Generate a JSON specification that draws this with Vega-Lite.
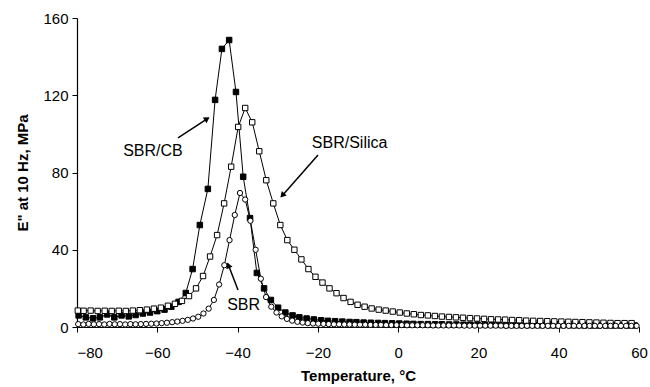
{
  "$schema": "https://vega.github.io/schema/vega-lite/v6.json",
  "width": 562,
  "height": 309,
  "autosize": {"type": "none"},
  "padding": {"left": 77, "top": 18, "right": 11, "bottom": 60},
  "background": "white",
  "config": {
    "view": {"stroke": null},
    "font": "Liberation Sans",
    "axis": {
      "grid": false,
      "domainColor": "black",
      "domainWidth": 1.2,
      "tickColor": "black",
      "tickWidth": 1,
      "tickSize": 5,
      "labelFont": "Liberation Sans",
      "labelFontSize": 15,
      "labelColor": "black",
      "titleFont": "Liberation Sans",
      "titleFontSize": 15,
      "titleFontWeight": "bold",
      "titleColor": "black"
    }
  },
  "datasets": {
    "main": [
      {"series": "SBR/CB", "T": -79.6, "v": 6},
      {"series": "SBR/CB", "T": -77.8, "v": 5},
      {"series": "SBR/CB", "T": -76.0, "v": 4.5},
      {"series": "SBR/CB", "T": -74.3, "v": 5},
      {"series": "SBR/CB", "T": -72.5, "v": 6.5},
      {"series": "SBR/CB", "T": -70.7, "v": 5},
      {"series": "SBR/CB", "T": -68.9, "v": 6},
      {"series": "SBR/CB", "T": -67.1, "v": 5.5},
      {"series": "SBR/CB", "T": -65.4, "v": 6.2},
      {"series": "SBR/CB", "T": -63.6, "v": 7},
      {"series": "SBR/CB", "T": -61.8, "v": 7.5},
      {"series": "SBR/CB", "T": -60.0, "v": 8.2},
      {"series": "SBR/CB", "T": -58.2, "v": 9},
      {"series": "SBR/CB", "T": -56.5, "v": 10.5},
      {"series": "SBR/CB", "T": -54.7, "v": 13},
      {"series": "SBR/CB", "T": -52.9, "v": 17.6},
      {"series": "SBR/CB", "T": -51.2, "v": 30},
      {"series": "SBR/CB", "T": -49.4, "v": 52.8},
      {"series": "SBR/CB", "T": -47.4, "v": 71.5},
      {"series": "SBR/CB", "T": -45.6, "v": 117.6},
      {"series": "SBR/CB", "T": -43.9, "v": 144},
      {"series": "SBR/CB", "T": -42.1, "v": 148.6},
      {"series": "SBR/CB", "T": -40.4, "v": 121.7},
      {"series": "SBR/CB", "T": -38.6, "v": 77.8},
      {"series": "SBR/CB", "T": -36.9, "v": 56.4},
      {"series": "SBR/CB", "T": -35.2, "v": 28},
      {"series": "SBR/CB", "T": -33.4, "v": 20},
      {"series": "SBR/CB", "T": -31.7, "v": 14},
      {"series": "SBR/CB", "T": -29.9, "v": 10},
      {"series": "SBR/CB", "T": -28.1, "v": 7.5},
      {"series": "SBR/CB", "T": -26.3, "v": 6},
      {"series": "SBR/CB", "T": -24.6, "v": 5},
      {"series": "SBR/CB", "T": -22.8, "v": 4.4},
      {"series": "SBR/CB", "T": -21.0, "v": 3.9},
      {"series": "SBR/CB", "T": -19.2, "v": 3.5},
      {"series": "SBR/CB", "T": -17.5, "v": 3.2},
      {"series": "SBR/CB", "T": -15.7, "v": 3},
      {"series": "SBR/CB", "T": -13.9, "v": 2.8},
      {"series": "SBR/CB", "T": -12.1, "v": 2.6},
      {"series": "SBR/CB", "T": -10.4, "v": 2.5},
      {"series": "SBR/CB", "T": -8.6, "v": 2.3},
      {"series": "SBR/CB", "T": -6.8, "v": 2.2},
      {"series": "SBR/CB", "T": -5.0, "v": 2.1},
      {"series": "SBR/CB", "T": -3.3, "v": 2},
      {"series": "SBR/CB", "T": -1.5, "v": 1.9},
      {"series": "SBR/CB", "T": 0.3, "v": 1.8},
      {"series": "SBR/CB", "T": 2.1, "v": 1.7},
      {"series": "SBR/CB", "T": 3.8, "v": 1.6},
      {"series": "SBR/CB", "T": 5.6, "v": 1.5},
      {"series": "SBR/CB", "T": 7.4, "v": 1.5},
      {"series": "SBR/CB", "T": 9.2, "v": 1.4},
      {"series": "SBR/CB", "T": 10.9, "v": 1.4},
      {"series": "SBR/CB", "T": 12.7, "v": 1.3},
      {"series": "SBR/CB", "T": 14.5, "v": 1.3},
      {"series": "SBR/CB", "T": 16.3, "v": 1.2},
      {"series": "SBR/CB", "T": 18.0, "v": 1.2},
      {"series": "SBR/CB", "T": 19.8, "v": 1.2},
      {"series": "SBR/CB", "T": 21.6, "v": 1.1},
      {"series": "SBR/CB", "T": 23.4, "v": 1.1},
      {"series": "SBR/CB", "T": 25.1, "v": 1.1},
      {"series": "SBR/CB", "T": 26.9, "v": 1.0},
      {"series": "SBR/CB", "T": 28.7, "v": 1.0},
      {"series": "SBR/CB", "T": 30.5, "v": 1.0},
      {"series": "SBR/CB", "T": 32.2, "v": 1.0},
      {"series": "SBR/CB", "T": 34.0, "v": 1.0},
      {"series": "SBR/CB", "T": 35.8, "v": 0.9},
      {"series": "SBR/CB", "T": 37.6, "v": 0.9},
      {"series": "SBR/CB", "T": 39.3, "v": 0.9},
      {"series": "SBR/CB", "T": 41.1, "v": 0.9},
      {"series": "SBR/CB", "T": 42.9, "v": 0.9},
      {"series": "SBR/CB", "T": 44.7, "v": 0.9},
      {"series": "SBR/CB", "T": 46.4, "v": 0.8},
      {"series": "SBR/CB", "T": 48.2, "v": 0.8},
      {"series": "SBR/CB", "T": 50.0, "v": 0.8},
      {"series": "SBR/CB", "T": 51.8, "v": 0.8},
      {"series": "SBR/CB", "T": 53.5, "v": 0.8},
      {"series": "SBR/CB", "T": 55.3, "v": 0.8},
      {"series": "SBR/CB", "T": 57.1, "v": 0.8},
      {"series": "SBR/CB", "T": 58.9, "v": 0.8},

      {"series": "SBR/Silica", "T": -79.8, "v": 8.5},
      {"series": "SBR/Silica", "T": -78.35, "v": 8.4},
      {"series": "SBR/Silica", "T": -76.6, "v": 8.5},
      {"series": "SBR/Silica", "T": -74.85, "v": 8.3},
      {"series": "SBR/Silica", "T": -73.1, "v": 8.4},
      {"series": "SBR/Silica", "T": -71.35, "v": 8.3},
      {"series": "SBR/Silica", "T": -69.6, "v": 8.4},
      {"series": "SBR/Silica", "T": -67.85, "v": 8.3},
      {"series": "SBR/Silica", "T": -66.1, "v": 8.5},
      {"series": "SBR/Silica", "T": -64.35, "v": 8.7},
      {"series": "SBR/Silica", "T": -62.6, "v": 9},
      {"series": "SBR/Silica", "T": -60.85, "v": 9.5},
      {"series": "SBR/Silica", "T": -59.1, "v": 10},
      {"series": "SBR/Silica", "T": -57.35, "v": 11},
      {"series": "SBR/Silica", "T": -55.6, "v": 12},
      {"series": "SBR/Silica", "T": -53.85, "v": 13.5},
      {"series": "SBR/Silica", "T": -52.1, "v": 16},
      {"series": "SBR/Silica", "T": -50.35, "v": 20},
      {"series": "SBR/Silica", "T": -48.6, "v": 26.4},
      {"series": "SBR/Silica", "T": -46.85, "v": 36.5},
      {"series": "SBR/Silica", "T": -45.1, "v": 47.6},
      {"series": "SBR/Silica", "T": -43.35, "v": 64},
      {"series": "SBR/Silica", "T": -41.6, "v": 83},
      {"series": "SBR/Silica", "T": -39.85, "v": 103.6},
      {"series": "SBR/Silica", "T": -38.1, "v": 113.4},
      {"series": "SBR/Silica", "T": -36.35, "v": 106},
      {"series": "SBR/Silica", "T": -34.6, "v": 91},
      {"series": "SBR/Silica", "T": -32.85, "v": 76},
      {"series": "SBR/Silica", "T": -31.1, "v": 64},
      {"series": "SBR/Silica", "T": -29.35, "v": 52.8},
      {"series": "SBR/Silica", "T": -27.6, "v": 45},
      {"series": "SBR/Silica", "T": -25.85, "v": 40},
      {"series": "SBR/Silica", "T": -24.1, "v": 35},
      {"series": "SBR/Silica", "T": -22.35, "v": 30},
      {"series": "SBR/Silica", "T": -20.6, "v": 26},
      {"series": "SBR/Silica", "T": -18.85, "v": 23},
      {"series": "SBR/Silica", "T": -17.1, "v": 20},
      {"series": "SBR/Silica", "T": -15.35, "v": 17.5},
      {"series": "SBR/Silica", "T": -13.6, "v": 15},
      {"series": "SBR/Silica", "T": -11.85, "v": 13},
      {"series": "SBR/Silica", "T": -10.1, "v": 11.5},
      {"series": "SBR/Silica", "T": -8.35, "v": 10.5},
      {"series": "SBR/Silica", "T": -6.6, "v": 9.6},
      {"series": "SBR/Silica", "T": -4.85, "v": 9},
      {"series": "SBR/Silica", "T": -3.1, "v": 8.5},
      {"series": "SBR/Silica", "T": -1.35, "v": 8},
      {"series": "SBR/Silica", "T": 0.4, "v": 7.5},
      {"series": "SBR/Silica", "T": 2.15, "v": 7},
      {"series": "SBR/Silica", "T": 3.9, "v": 6.6},
      {"series": "SBR/Silica", "T": 5.65, "v": 6.2},
      {"series": "SBR/Silica", "T": 7.4, "v": 6},
      {"series": "SBR/Silica", "T": 9.15, "v": 5.7},
      {"series": "SBR/Silica", "T": 10.9, "v": 5.4},
      {"series": "SBR/Silica", "T": 12.65, "v": 5.2},
      {"series": "SBR/Silica", "T": 14.4, "v": 5},
      {"series": "SBR/Silica", "T": 16.15, "v": 4.8},
      {"series": "SBR/Silica", "T": 17.9, "v": 4.6},
      {"series": "SBR/Silica", "T": 19.65, "v": 4.4},
      {"series": "SBR/Silica", "T": 21.4, "v": 4.2},
      {"series": "SBR/Silica", "T": 23.15, "v": 4},
      {"series": "SBR/Silica", "T": 24.9, "v": 3.9},
      {"series": "SBR/Silica", "T": 26.65, "v": 3.8},
      {"series": "SBR/Silica", "T": 28.4, "v": 3.6},
      {"series": "SBR/Silica", "T": 30.15, "v": 3.5},
      {"series": "SBR/Silica", "T": 31.9, "v": 3.3},
      {"series": "SBR/Silica", "T": 33.65, "v": 3.2},
      {"series": "SBR/Silica", "T": 35.4, "v": 3.1},
      {"series": "SBR/Silica", "T": 37.15, "v": 3},
      {"series": "SBR/Silica", "T": 38.9, "v": 2.9},
      {"series": "SBR/Silica", "T": 40.65, "v": 2.8},
      {"series": "SBR/Silica", "T": 42.4, "v": 2.7},
      {"series": "SBR/Silica", "T": 44.15, "v": 2.6},
      {"series": "SBR/Silica", "T": 45.9, "v": 2.5},
      {"series": "SBR/Silica", "T": 47.65, "v": 2.4},
      {"series": "SBR/Silica", "T": 49.4, "v": 2.3},
      {"series": "SBR/Silica", "T": 51.15, "v": 2.2},
      {"series": "SBR/Silica", "T": 52.9, "v": 2.1},
      {"series": "SBR/Silica", "T": 54.65, "v": 2},
      {"series": "SBR/Silica", "T": 56.4, "v": 2},
      {"series": "SBR/Silica", "T": 58.15, "v": 2},

      {"series": "SBR", "T": -79.7, "v": 1.5},
      {"series": "SBR", "T": -78.4, "v": 1.3},
      {"series": "SBR", "T": -77.1, "v": 1.6},
      {"series": "SBR", "T": -75.8, "v": 1.4},
      {"series": "SBR", "T": -74.5, "v": 1.5},
      {"series": "SBR", "T": -73.2, "v": 1.3},
      {"series": "SBR", "T": -71.9, "v": 1.6},
      {"series": "SBR", "T": -70.6, "v": 1.4},
      {"series": "SBR", "T": -69.3, "v": 1.5},
      {"series": "SBR", "T": -68.0, "v": 1.3},
      {"series": "SBR", "T": -66.7, "v": 1.5},
      {"series": "SBR", "T": -65.4, "v": 1.4},
      {"series": "SBR", "T": -64.1, "v": 1.5},
      {"series": "SBR", "T": -62.8, "v": 1.6},
      {"series": "SBR", "T": -61.5, "v": 1.7},
      {"series": "SBR", "T": -60.2, "v": 1.8},
      {"series": "SBR", "T": -58.9, "v": 2},
      {"series": "SBR", "T": -57.6, "v": 2.2},
      {"series": "SBR", "T": -56.3, "v": 2.5},
      {"series": "SBR", "T": -55.0, "v": 2.8},
      {"series": "SBR", "T": -53.7, "v": 3.2},
      {"series": "SBR", "T": -52.4, "v": 3.7},
      {"series": "SBR", "T": -51.1, "v": 4.4},
      {"series": "SBR", "T": -49.8, "v": 5.3},
      {"series": "SBR", "T": -48.5, "v": 7},
      {"series": "SBR", "T": -47.2, "v": 9.5},
      {"series": "SBR", "T": -45.9, "v": 14},
      {"series": "SBR", "T": -44.6, "v": 22},
      {"series": "SBR", "T": -43.3, "v": 32},
      {"series": "SBR", "T": -42.0, "v": 45},
      {"series": "SBR", "T": -40.7, "v": 58},
      {"series": "SBR", "T": -39.4, "v": 69.4},
      {"series": "SBR", "T": -38.1, "v": 66},
      {"series": "SBR", "T": -36.8, "v": 55},
      {"series": "SBR", "T": -35.5, "v": 40},
      {"series": "SBR", "T": -34.2, "v": 25},
      {"series": "SBR", "T": -32.9, "v": 15.5},
      {"series": "SBR", "T": -31.6, "v": 10.5},
      {"series": "SBR", "T": -30.3, "v": 7.5},
      {"series": "SBR", "T": -29.0, "v": 5.5},
      {"series": "SBR", "T": -27.7, "v": 4.2},
      {"series": "SBR", "T": -26.4, "v": 3.3},
      {"series": "SBR", "T": -25.1, "v": 2.7},
      {"series": "SBR", "T": -23.8, "v": 2.3},
      {"series": "SBR", "T": -22.5, "v": 2.0},
      {"series": "SBR", "T": -21.2, "v": 1.8},
      {"series": "SBR", "T": -19.9, "v": 1.7},
      {"series": "SBR", "T": -18.6, "v": 1.6},
      {"series": "SBR", "T": -17.3, "v": 1.5},
      {"series": "SBR", "T": -16.0, "v": 1.4},
      {"series": "SBR", "T": -14.7, "v": 1.4},
      {"series": "SBR", "T": -13.4, "v": 1.3},
      {"series": "SBR", "T": -12.1, "v": 1.3},
      {"series": "SBR", "T": -10.8, "v": 1.2},
      {"series": "SBR", "T": -9.5, "v": 1.2},
      {"series": "SBR", "T": -8.2, "v": 1.2},
      {"series": "SBR", "T": -6.9, "v": 1.1},
      {"series": "SBR", "T": -5.6, "v": 1.1},
      {"series": "SBR", "T": -4.3, "v": 1.1},
      {"series": "SBR", "T": -3.0, "v": 1.0},
      {"series": "SBR", "T": -1.7, "v": 1.0},
      {"series": "SBR", "T": -0.4, "v": 1.0},
      {"series": "SBR", "T": 0.9, "v": 1.0},
      {"series": "SBR", "T": 2.2, "v": 0.9},
      {"series": "SBR", "T": 3.5, "v": 0.9},
      {"series": "SBR", "T": 4.8, "v": 0.9},
      {"series": "SBR", "T": 6.1, "v": 0.9},
      {"series": "SBR", "T": 7.4, "v": 0.9},
      {"series": "SBR", "T": 8.7, "v": 0.8},
      {"series": "SBR", "T": 10.0, "v": 0.8},
      {"series": "SBR", "T": 11.3, "v": 0.8},
      {"series": "SBR", "T": 12.6, "v": 0.8},
      {"series": "SBR", "T": 13.9, "v": 0.8},
      {"series": "SBR", "T": 15.2, "v": 0.8},
      {"series": "SBR", "T": 16.5, "v": 0.7},
      {"series": "SBR", "T": 17.8, "v": 0.7},
      {"series": "SBR", "T": 19.1, "v": 0.7},
      {"series": "SBR", "T": 20.4, "v": 0.7},
      {"series": "SBR", "T": 21.7, "v": 0.7},
      {"series": "SBR", "T": 23.0, "v": 0.7},
      {"series": "SBR", "T": 24.3, "v": 0.7},
      {"series": "SBR", "T": 25.6, "v": 0.7},
      {"series": "SBR", "T": 26.9, "v": 0.6},
      {"series": "SBR", "T": 28.2, "v": 0.6},
      {"series": "SBR", "T": 29.5, "v": 0.6},
      {"series": "SBR", "T": 30.8, "v": 0.6},
      {"series": "SBR", "T": 32.1, "v": 0.6},
      {"series": "SBR", "T": 33.4, "v": 0.6},
      {"series": "SBR", "T": 34.7, "v": 0.6},
      {"series": "SBR", "T": 36.0, "v": 0.6},
      {"series": "SBR", "T": 37.3, "v": 0.6},
      {"series": "SBR", "T": 38.6, "v": 0.6},
      {"series": "SBR", "T": 39.9, "v": 0.6},
      {"series": "SBR", "T": 41.2, "v": 0.6},
      {"series": "SBR", "T": 42.5, "v": 0.6},
      {"series": "SBR", "T": 43.8, "v": 0.6},
      {"series": "SBR", "T": 45.1, "v": 0.6},
      {"series": "SBR", "T": 46.4, "v": 0.6},
      {"series": "SBR", "T": 47.7, "v": 0.6},
      {"series": "SBR", "T": 49.0, "v": 0.6},
      {"series": "SBR", "T": 50.3, "v": 0.6},
      {"series": "SBR", "T": 51.6, "v": 0.6},
      {"series": "SBR", "T": 52.9, "v": 0.6},
      {"series": "SBR", "T": 54.2, "v": 0.6},
      {"series": "SBR", "T": 55.5, "v": 0.6},
      {"series": "SBR", "T": 56.8, "v": 0.6},
      {"series": "SBR", "T": 58.1, "v": 0.6},
      {"series": "SBR", "T": 59.4, "v": 0.6}
    ],
    "labels": [
      {"text": "SBR/CB", "x": -68.5, "y": 91},
      {"text": "SBR/Silica", "x": -21.5, "y": 95.3},
      {"text": "SBR", "x": -42.6, "y": 11.4}
    ],
    "arrows": [
      {"x1": -54.84, "y1": 97.88, "x2": -47.3, "y2": 108.2, "hx": -47.59, "hy": 107.8, "angle": 56.8},
      {"x1": -19.96, "y1": 89.07, "x2": -29.0, "y2": 67.7, "hx": -28.85, "hy": 68.15, "angle": 221.5},
      {"x1": -39.89, "y1": 19.16, "x2": -42.4, "y2": 32.7, "hx": -42.31, "hy": 31.95, "angle": 338.5}
    ]
  },
  "layer": [
    {
      "data": {"name": "main"},
      "mark": {"type": "line", "color": "black", "strokeWidth": 1},
      "encoding": {
        "x": {
          "field": "T", "type": "quantitative",
          "scale": {"domain": [-80, 60], "nice": false, "zero": false},
          "axis": {
            "title": "Temperature, °C",
            "values": [-80, -60, -40, -20, 0, 20, 40, 60],
            "labelPadding": 13,
            "titlePadding": 8,
            "labelAlign": {"condition": {"test": "datum.value == -80", "value": "left"}, "value": "center"}
          }
        },
        "y": {
          "field": "v", "type": "quantitative",
          "scale": {"domain": [0, 160], "nice": false},
          "axis": {
            "title": "E\" at 10 Hz, MPa",
            "values": [0, 40, 80, 120, 160],
            "labelPadding": 4,
            "titlePadding": 12
          }
        },
        "detail": {"field": "series"}
      }
    },
    {
      "data": {"name": "main"},
      "mark": {"type": "point", "filled": true, "stroke": "black", "strokeWidth": 1, "opacity": 1},
      "encoding": {
        "x": {"field": "T", "type": "quantitative"},
        "y": {"field": "v", "type": "quantitative"},
        "fill": {"field": "series", "type": "nominal", "scale": {"domain": ["SBR/CB", "SBR/Silica", "SBR"], "range": ["black", "white", "white"]}, "legend": null},
        "shape": {"field": "series", "type": "nominal", "scale": {"domain": ["SBR/CB", "SBR/Silica", "SBR"], "range": ["square", "square", "circle"]}, "legend": null},
        "size": {"field": "series", "type": "nominal", "scale": {"domain": ["SBR/CB", "SBR/Silica", "SBR"], "range": [30, 28, 20]}, "legend": null}
      }
    },
    {
      "data": {"name": "arrows"},
      "mark": {"type": "rule", "color": "black", "strokeWidth": 1.5},
      "encoding": {
        "x": {"field": "x1", "type": "quantitative"},
        "y": {"field": "y1", "type": "quantitative"},
        "x2": {"field": "x2"},
        "y2": {"field": "y2"}
      }
    },
    {
      "data": {"name": "arrows"},
      "mark": {"type": "point", "shape": "triangle-up", "filled": true, "color": "black", "size": 45, "opacity": 1},
      "encoding": {
        "x": {"field": "hx", "type": "quantitative"},
        "y": {"field": "hy", "type": "quantitative"},
        "angle": {"field": "angle", "type": "quantitative", "scale": null}
      }
    },
    {
      "data": {"name": "labels"},
      "mark": {"type": "text", "align": "left", "baseline": "middle", "font": "Liberation Sans", "fontSize": 16, "color": "black"},
      "encoding": {
        "x": {"field": "x", "type": "quantitative"},
        "y": {"field": "y", "type": "quantitative"},
        "text": {"field": "text"}
      }
    }
  ]
}
